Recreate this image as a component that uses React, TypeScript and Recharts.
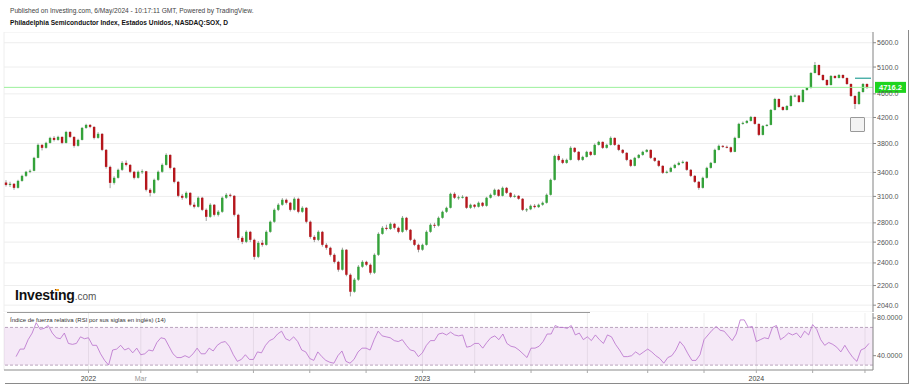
import React from "react";
import {
  ComposedChart,
  LineChart,
  Bar,
  Line,
  XAxis,
  YAxis,
  CartesianGrid,
  ReferenceArea,
  ReferenceLine,
} from "recharts";

// [open, high, low, close] per candle
const candlesQ4_2021 = [
  [3270, 3300, 3220, 3240], [3240, 3280, 3215, 3254], [3254, 3262, 3180, 3204], [3204, 3305, 3195, 3291],
  [3291, 3370, 3280, 3355], [3355, 3420, 3340, 3408], [3408, 3440, 3390, 3421], [3421, 3610, 3415, 3596],
  [3596, 3800, 3590, 3780], [3780, 3790, 3700, 3737], [3737, 3825, 3725, 3809], [3809, 3900, 3800, 3883],
  [3883, 3910, 3830, 3853], [3853, 3915, 3840, 3898], [3898, 3905, 3790, 3809], [3809, 3990, 3800, 3973],
  [3973, 3985, 3880, 3898], [3898, 3905, 3740, 3766], [3766, 3870, 3755, 3853], [3853, 4050, 3845, 4035],
  [4035, 4100, 4020, 4082],
];

const candlesH1_2022 = [
  [4082, 4095, 4030, 4051], [4051, 4060, 3860, 3883], [3883, 3970, 3870, 3944], [3944, 3955, 3690, 3708],
  [3708, 3720, 3450, 3473], [3473, 3490, 3200, 3266], [3266, 3350, 3245, 3330], [3330, 3450, 3320, 3434],
  [3434, 3550, 3420, 3527], [3527, 3560, 3480, 3500], [3500, 3510, 3390, 3408], [3408, 3420, 3310, 3330],
  [3330, 3425, 3320, 3408], [3408, 3440, 3380, 3415], [3415, 3420, 3160, 3180], [3180, 3200, 3100, 3143],
  [3143, 3320, 3130, 3304], [3304, 3425, 3290, 3408], [3408, 3520, 3395, 3500], [3500, 3660, 3490, 3637],
  [3637, 3645, 3440, 3460], [3460, 3470, 3260, 3279], [3279, 3290, 3090, 3107], [3107, 3130, 3060, 3084],
  [3084, 3160, 3070, 3143], [3143, 3150, 2985, 3002], [3002, 3030, 2960, 2979], [2979, 3100, 2970, 3084],
  [3084, 3095, 2930, 2944], [2944, 2960, 2820, 2866], [2866, 3020, 2855, 3002], [3002, 3010, 2870, 2888],
  [2888, 2940, 2870, 2922], [2922, 3100, 2910, 3084], [3084, 3140, 3070, 3119], [3119, 3135, 3090, 3107],
  [3107, 3115, 2870, 2888], [2888, 2900, 2620, 2643], [2643, 2660, 2580, 2603], [2603, 2720, 2590, 2705],
  [2705, 2715, 2600, 2623], [2623, 2635, 2430, 2457],
];

const candlesH2_2022 = [
  [2457, 2610, 2445, 2593], [2593, 2620, 2555, 2573], [2573, 2720, 2565, 2705], [2705, 2825, 2695, 2812],
  [2812, 2960, 2800, 2944], [2944, 3020, 2930, 3002], [3002, 3080, 2990, 3060], [3060, 3075, 3005, 3025],
  [3025, 3035, 2925, 2944], [2944, 3090, 2935, 3072], [3072, 3085, 2905, 2922], [2922, 2985, 2910, 2967],
  [2967, 2975, 2795, 2812], [2812, 2825, 2635, 2653], [2653, 2670, 2600, 2623], [2623, 2720, 2610, 2705],
  [2705, 2715, 2555, 2573], [2573, 2590, 2525, 2544], [2544, 2555, 2460, 2476], [2476, 2490, 2395, 2410],
  [2410, 2420, 2320, 2338], [2338, 2545, 2330, 2525], [2525, 2530, 2280, 2293], [2293, 2305, 2110, 2148],
  [2148, 2265, 2140, 2250], [2250, 2380, 2240, 2365], [2365, 2425, 2355, 2410], [2410, 2420, 2370, 2383],
  [2383, 2395, 2295, 2311], [2311, 2490, 2300, 2476], [2476, 2700, 2465, 2684], [2684, 2765, 2675, 2747],
  [2747, 2780, 2720, 2735], [2735, 2805, 2725, 2790], [2790, 2800, 2730, 2747], [2747, 2760, 2690, 2705],
  [2705, 2875, 2695, 2855], [2855, 2865, 2710, 2726], [2726, 2735, 2610, 2623], [2623, 2635, 2560, 2573],
  [2573, 2585, 2500, 2525], [2525, 2585, 2515, 2573],
];

const candlesH1_2023 = [
  [2573, 2720, 2565, 2705], [2705, 2795, 2695, 2779], [2779, 2800, 2745, 2770], [2770, 2870, 2760, 2855],
  [2855, 2935, 2845, 2922], [2922, 2980, 2910, 2967], [2967, 3145, 2960, 3131], [3131, 3150, 3070, 3084],
  [3084, 3110, 3060, 3090], [3090, 3115, 3075, 3095], [3095, 3100, 2955, 2967], [2967, 3015, 2955, 3002],
  [3002, 3010, 2960, 2979], [2979, 3040, 2970, 3025], [3025, 3035, 2975, 2990], [2990, 3095, 2980, 3084],
  [3084, 3135, 3075, 3119], [3119, 3195, 3110, 3180], [3180, 3190, 3095, 3107], [3107, 3220, 3100, 3204],
  [3204, 3215, 3130, 3143], [3143, 3150, 3080, 3095], [3095, 3125, 3085, 3107], [3107, 3115, 3060, 3072],
  [3072, 3080, 2930, 2944], [2944, 2965, 2920, 2950], [2950, 3005, 2940, 2990], [2990, 3010, 2960, 2975],
  [2975, 3015, 2965, 3002], [3002, 3040, 2990, 3025], [3025, 3135, 3015, 3119], [3119, 3320, 3110, 3304],
  [3304, 3640, 3295, 3623], [3623, 3650, 3550, 3568], [3568, 3590, 3510, 3527], [3527, 3585, 3515, 3568],
  [3568, 3760, 3560, 3737], [3737, 3745, 3665, 3680], [3680, 3690, 3550, 3568], [3568, 3625, 3555, 3609],
  [3609, 3695, 3600, 3680], [3680, 3690, 3620, 3637],
];

const candlesH2_2023 = [
  [3637, 3800, 3630, 3780], [3780, 3840, 3770, 3824], [3824, 3830, 3720, 3737], [3737, 3795, 3725, 3780],
  [3780, 3905, 3770, 3883], [3883, 3890, 3765, 3780], [3780, 3790, 3690, 3708], [3708, 3720, 3650, 3666],
  [3666, 3675, 3550, 3568], [3568, 3580, 3470, 3487], [3487, 3610, 3480, 3596], [3596, 3650, 3585, 3637],
  [3637, 3695, 3625, 3680], [3680, 3720, 3670, 3708], [3708, 3715, 3580, 3596], [3596, 3605, 3540, 3555],
  [3555, 3565, 3470, 3487], [3487, 3495, 3380, 3395], [3395, 3425, 3385, 3408], [3408, 3475, 3400, 3460],
  [3460, 3515, 3450, 3500], [3500, 3545, 3490, 3527], [3527, 3560, 3515, 3541], [3541, 3550, 3420, 3434],
  [3434, 3445, 3340, 3355], [3355, 3365, 3265, 3279], [3279, 3290, 3180, 3204], [3204, 3345, 3195, 3330],
  [3330, 3475, 3320, 3460], [3460, 3540, 3450, 3527], [3527, 3725, 3520, 3708], [3708, 3785, 3700, 3766],
  [3766, 3775, 3735, 3752], [3752, 3770, 3730, 3745], [3745, 3755, 3665, 3680], [3680, 3900, 3675, 3883],
  [3883, 4115, 3875, 4098], [4098, 4135, 4085, 4114], [4114, 4160, 4100, 4145], [4145, 4225, 4135, 4209],
  [4209, 4215, 4085, 4098],
];

const candles2024 = [
  [4098, 4105, 3910, 3928], [3928, 4080, 3920, 4066], [4066, 4095, 4055, 4082], [4082, 4340, 4075, 4324],
  [4324, 4530, 4315, 4510], [4510, 4520, 4360, 4374], [4374, 4385, 4310, 4324], [4324, 4405, 4315, 4390],
  [4390, 4580, 4380, 4563], [4563, 4590, 4540, 4570], [4570, 4580, 4445, 4459], [4459, 4685, 4450, 4669],
  [4669, 4720, 4655, 4705], [4705, 5000, 4695, 4985], [4985, 5200, 4975, 5140], [5140, 5150, 4930, 4946],
  [4946, 4960, 4835, 4852], [4852, 4865, 4740, 4759], [4759, 4945, 4750, 4928], [4928, 4940, 4875, 4890],
  [4890, 4965, 4880, 4946], [4946, 4960, 4875, 4890], [4890, 4900, 4760, 4778], [4778, 4790, 4545, 4563],
  [4563, 4575, 4340, 4424], [4424, 4650, 4410, 4633], [4633, 4795, 4620, 4778], [4778, 4790, 4690, 4716.2],
];

// RSI(14), one value per candle
const rsiValues = [
  null, null, null, 39, 47, 47, 57, 64, 75, 68, 69, 72, 64, 59, 58, 64, 53, 52, 53, 60, 58,
  59, 51, 51, 42, 35, 30, 46, 47, 51, 46, 48, 43, 48, 41, 42, 46, 45, 54, 59, 58, 50, 42, 38, 38, 40,
  38, 42, 48, 42, 42, 48, 45, 51, 54, 55, 50, 41, 34, 36, 41, 36, 36,
  44, 43, 51, 56, 58, 63, 66, 58, 56, 60, 55, 46, 44, 37, 35, 44, 39, 35, 33, 32, 40, 45, 34, 32,
  36, 44, 48, 48, 46, 57, 66, 61, 60, 59, 56, 55, 57, 51, 46, 45, 39, 43,
  51, 56, 56, 63, 64, 62, 65, 62, 61, 62, 49, 50, 53, 53, 48, 54, 59, 61, 57, 63, 53, 50, 49, 46,
  42, 38, 48, 48, 50, 55, 63, 63, 72, 70, 70, 69, 72, 62, 64, 57, 60, 56,
  62, 57, 53, 62, 60, 52, 46, 39, 39, 40, 44, 41, 44, 47, 44, 40, 37, 32, 38, 40, 46, 55, 50, 42,
  35, 35, 41, 57, 62, 67, 71, 67, 66, 61, 56, 63, 78, 78, 70, 71, 55,
  57, 59, 58, 70, 72, 57, 60, 64, 62, 64, 59, 66, 62, 73, 68, 57, 51, 54, 52, 49, 44, 51, 44, 38,
  34, 46, 48, 53,
];

const priceTicks = [2040, 2200, 2400, 2600, 2800, 3100, 3400, 3800, 4200, 4600, 5100, 5600];
const rsiTicks = [40, 80];
const monthTickIndex = [21, 34, 48, 62, 76, 90, 104, 117, 131, 145, 160, 174, 187, 201, 214];
const monthTickLabel = ["2022", "Mar", "", "", "", "", "2023", "", "", "", "", "", "2024", "", ""];
const lastPrice = 4716.2;
const markerPrice = 4885;

const allCandles = [
  ...candlesQ4_2021,
  ...candlesH1_2022,
  ...candlesH2_2022,
  ...candlesH1_2023,
  ...candlesH2_2023,
  ...candles2024,
];

const rows: any[] = allCandles.map((c, k) => ({
  k,
  open: c[0],
  high: c[1],
  low: c[2],
  close: c[3],
  range: [c[2], c[1]],
  rsi: rsiValues[k],
}));
// empty slot right of the last candle
rows.push({ k: rows.length, range: null, rsi: null });

const FONT = '"Liberation Sans", Arial, sans-serif';

function Candle(props: any) {
  const { x, y, width, height, payload } = props;
  if (!payload || payload.open == null || !height) return null;
  const { open, close, high, low } = payload;
  const top = Math.log(high);
  const span = top - Math.log(low);
  const toY = (v: number) => y + ((top - Math.log(v)) / span) * height;
  const up = close >= open;
  const cx = x + width / 2;
  const yo = toY(open);
  const yc = toY(close);
  const bodyTop = Math.min(yo, yc);
  const bodyH = Math.max(Math.abs(yc - yo), 1);
  return (
    <g>
      <line x1={cx} x2={cx} y1={y} y2={y + height} stroke="#777" strokeWidth={0.7} />
      <rect x={cx - 1.2} y={bodyTop} width={2.4} height={bodyH} fill={up ? "#34a23a" : "#b5161c"} />
    </g>
  );
}

function PriceTag(props: any) {
  const { viewBox } = props;
  if (!viewBox) return null;
  const x = viewBox.x + viewBox.width + 2;
  const y = viewBox.y;
  return (
    <g>
      <rect x={x} y={y - 5.5} width={31} height={11} fill="#1ed41e" />
      <text x={x + 15.5} y={y + 2.5} textAnchor="middle" fontSize={7.5} fontWeight="bold" fill="#fff" fontFamily={FONT}>
        {lastPrice.toFixed(1)}
      </text>
    </g>
  );
}

function TimeTick(props: any) {
  const { x, y, payload } = props;
  const i = monthTickIndex.indexOf(payload.value);
  const label = i >= 0 ? monthTickLabel[i] : "";
  if (!label) return null;
  const isYear = /^\d+$/.test(label);
  return (
    <text x={x} y={y + 6} textAnchor="middle" fontSize={7} fill={isYear ? "#444" : "#999"} fontFamily={FONT}>
      {label}
    </text>
  );
}

export default function App() {
  return (
    <div
      style={{
        position: "absolute",
        left: 0,
        top: 0,
        width: 914,
        height: 392,
        background: "#fff",
        overflow: "hidden",
        fontFamily: FONT,
      }}
    >
      <div style={{ position: "absolute", left: 10, top: 7, fontSize: 6.6, color: "#444", whiteSpace: "nowrap" }}>
        Published on Investing.com, 6/May/2024 - 10:17:11 GMT, Powered by TradingView.
      </div>
      <div
        style={{ position: "absolute", left: 10, top: 19, fontSize: 6.6, fontWeight: "bold", color: "#111", whiteSpace: "nowrap" }}
      >
        Philadelphia Semiconductor Index, Estados Unidos, NASDAQ:SOX, D
      </div>

      {/* price panel */}
      <div style={{ position: "absolute", left: 0, top: 32 }}>
        <ComposedChart width={914} height={280} data={rows} margin={{ top: 0, right: 0, bottom: 0, left: 4 }} barCategoryGap={0}>
          <CartesianGrid stroke="#eeeeee" />
          <XAxis
            dataKey="k"
            type="category"
            height={0}
            ticks={monthTickIndex}
            interval={0}
            tick={false}
            tickLine={false}
            axisLine={false}
          />
          <YAxis
            orientation="right"
            width={41}
            type="number"
            scale="log"
            domain={[1987, 5836]}
            allowDataOverflow
            ticks={priceTicks}
            interval={0}
            tickFormatter={(v: number) => v.toFixed(1)}
            tick={{ fontSize: 7, fill: "#555", fontFamily: FONT }}
            tickSize={3}
            tickMargin={1}
            axisLine={{ stroke: "#8a8a8a" }}
            tickLine={{ stroke: "#8a8a8a" }}
          />
          <ReferenceLine y={lastPrice} stroke="#9cf09c" label={<PriceTag />} />
          <ReferenceLine
            segment={[
              { x: 212, y: markerPrice },
              { x: 216, y: markerPrice },
            ]}
            stroke="#2aa198"
            strokeWidth={1.2}
          />
          <Bar dataKey="range" shape={<Candle />} isAnimationActive={false} />
        </ComposedChart>
      </div>

      {/* decorations */}
      <div
        style={{
          position: "absolute",
          left: 850,
          top: 117,
          width: 13,
          height: 13,
          border: "1px solid #999",
          borderRadius: 1,
          background: "#f3f3f3",
        }}
      />
      <div style={{ position: "absolute", left: 15, top: 286, whiteSpace: "nowrap" }}>
        <span style={{ fontSize: 14, fontWeight: "bold", color: "#111", letterSpacing: -0.2 }}>Investing</span>
        <span style={{ fontSize: 10, color: "#555" }}>.com</span>
      </div>
      <div style={{ position: "absolute", left: 56, top: 289, width: 3, height: 2, background: "#f5a623" }} />
      <div style={{ position: "absolute", left: 7, top: 312, width: 583, height: 1, background: "#9a9a9a" }} />

      {/* RSI panel */}
      <div style={{ position: "absolute", left: 0, top: 313 }}>
        <LineChart width={914} height={79} data={rows} margin={{ top: 0, right: 0, bottom: 0, left: 4 }}>
          <CartesianGrid stroke="#eeeeee" horizontal={false} />
          <ReferenceArea y1={30} y2={70} fill="#9c27b0" fillOpacity={0.1} stroke="none" />
          <ReferenceLine y={70} stroke="#b9a3bd" strokeDasharray="3 2" />
          <ReferenceLine y={30} stroke="#b9a3bd" strokeDasharray="3 2" />
          <XAxis
            dataKey="k"
            type="category"
            height={22}
            ticks={monthTickIndex}
            interval={0}
            tick={<TimeTick />}
            tickSize={3}
            axisLine={{ stroke: "#8a8a8a" }}
            tickLine={{ stroke: "#aaa" }}
          />
          <YAxis
            orientation="right"
            width={41}
            type="number"
            domain={[24.8, 85.3]}
            allowDataOverflow
            ticks={rsiTicks}
            interval={0}
            tickFormatter={(v: number) => v.toFixed(4)}
            tick={{ fontSize: 7, fill: "#555", fontFamily: FONT }}
            tickSize={3}
            tickMargin={1}
            axisLine={{ stroke: "#8a8a8a" }}
            tickLine={{ stroke: "#8a8a8a" }}
          />
          <Line
            type="linear"
            dataKey="rsi"
            stroke="#b86fcb"
            strokeWidth={0.8}
            dot={false}
            connectNulls={false}
            isAnimationActive={false}
          />
        </LineChart>
      </div>
      <div style={{ position: "absolute", left: 10, top: 317, fontSize: 6, color: "#333", whiteSpace: "nowrap" }}>
        Índice de fuerza relativa (RSI por sus siglas en inglés) (14)
      </div>

      {/* frame */}
      <div style={{ position: "absolute", left: 908, top: 30, width: 1, height: 354, background: "#8a8a8a" }} />
      <div style={{ position: "absolute", left: 5, top: 383, width: 904, height: 1, background: "#8a8a8a" }} />
    </div>
  );
}
